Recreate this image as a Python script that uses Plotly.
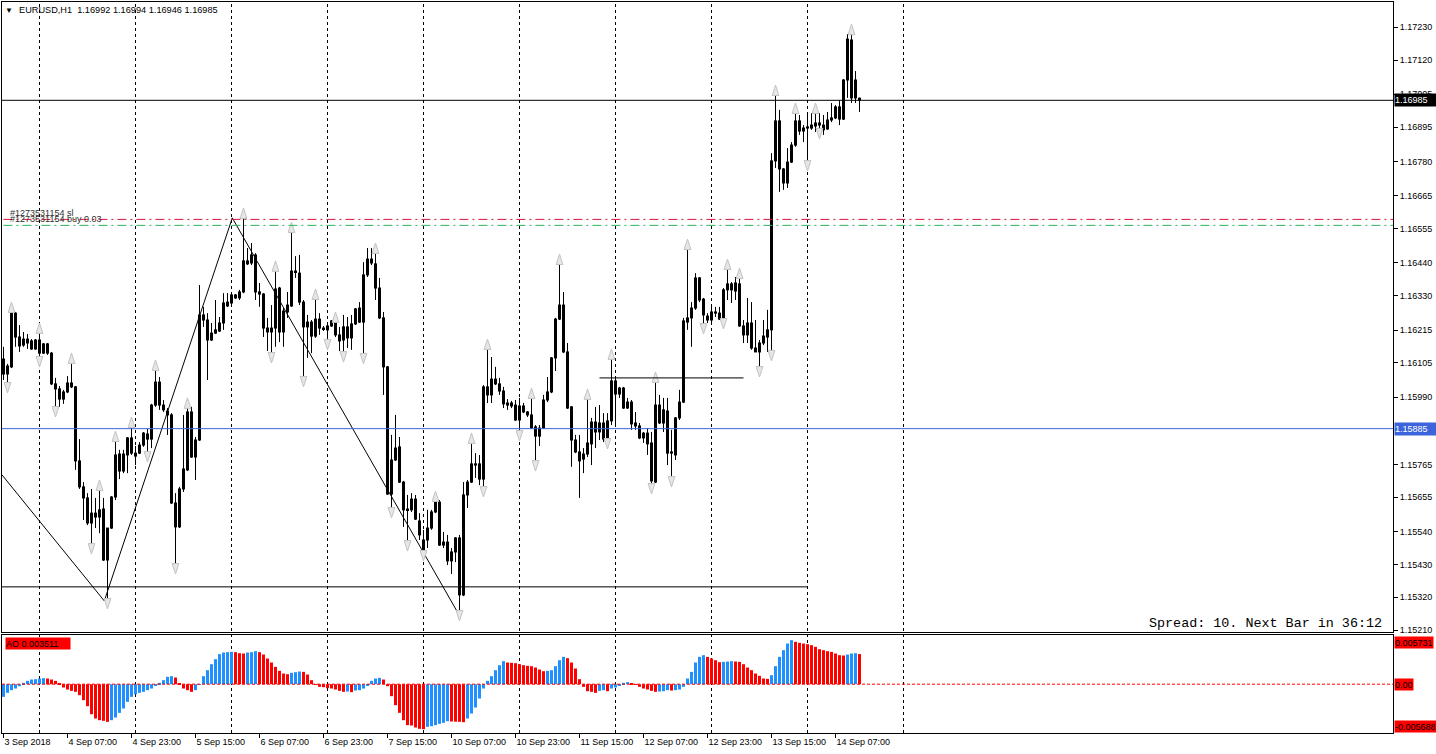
import plotly.graph_objects as go

# ---------------- data ----------------
open_ = [1.16118,1.16068,1.16092,1.16272,1.16192,1.16165,1.16185,1.16179,1.16152,1.16182,
         1.16138,1.16169,1.16138,1.16035,1.16018,1.15984,1.16008,1.16038,1.16025,1.15777,
         1.15690,1.15653,1.15569,1.15602,1.15589,1.15616,1.15445,1.15552,1.15656,1.15800,
         1.15743,1.15797,1.15854,1.15803,1.15803,1.15830,1.15867,1.15850,1.15964,1.16041,
         1.15964,1.15944,1.15931,1.15636,1.15556,1.15683,1.15747,1.15941,1.15790,1.15847,
         1.16266,1.16249,1.16182,1.16205,1.16212,1.16239,1.16309,1.16306,1.16323,1.16323,
         1.16343,1.16447,1.16440,1.16467,1.16343,1.16336,1.16222,1.16209,1.16222,1.16356,
         1.16209,1.16276,1.16296,1.16413,1.16406,1.16309,1.16226,1.16242,1.16195,1.16252,
         1.16222,1.16216,1.16229,1.16242,1.16199,1.16182,1.16226,1.16189,1.16236,1.16289,
         1.16242,1.16400,1.16453,1.16437,1.16356,1.16256,1.16092,1.15666,1.15780,1.15824,
         1.15706,1.15616,1.15613,1.15649,1.15576,1.15475,1.15512,1.15552,1.15606,1.15639,
         1.15495,1.15505,1.15442,1.15472,1.15519,1.15328,1.15663,1.15706,1.15763,1.15767,
         1.15716,1.16025,1.15998,1.16051,1.16035,1.16011,1.15971,1.15971,1.15964,1.15914,
         1.15961,1.15941,1.15931,1.15891,1.15860,1.15887,1.15981,1.16008,1.16122,1.16252,
         1.16299,1.16142,1.15958,1.15847,1.15807,1.15783,1.15800,1.15834,1.15907,1.15874,
         1.15904,1.15850,1.15911,1.16045,1.16001,1.16021,1.15954,1.15974,1.15904,1.15894,
         1.15854,1.15870,1.15837,1.15706,1.15964,1.15904,1.15944,1.15807,1.15797,1.15921,
         1.15974,1.16242,1.16256,1.16289,1.16390,1.16319,1.16262,1.16249,1.16272,1.16272,
         1.16252,1.16350,1.16370,1.16346,1.16370,1.16229,1.16199,1.16239,1.16155,1.16142,
         1.16172,1.16192,1.16216,1.16782,1.16916,1.16755,1.16708,1.16778,1.16835,1.16916,
         1.16882,1.16892,1.16892,1.16899,1.16902,1.16902,1.16889,1.16919,1.16926,1.16963,
         1.16922,1.17053,1.17187,1.17053,1.16992]
high = [1.16159,1.16102,1.16279,1.16276,1.16232,1.16209,1.16202,1.16185,1.16185,1.16209,
        1.16172,1.16172,1.16142,1.16055,1.16028,1.16015,1.16061,1.16108,1.16028,1.15850,
        1.15706,1.15669,1.15683,1.15653,1.15683,1.15653,1.15552,1.15659,1.15847,1.15814,
        1.15814,1.15857,1.15894,1.15827,1.15840,1.15874,1.15884,1.15968,1.16085,1.16058,
        1.15981,1.15954,1.15937,1.15669,1.15690,1.15931,1.15958,1.15958,1.15857,1.16366,
        1.16293,1.16272,1.16239,1.16316,1.16259,1.16339,1.16339,1.16339,1.16336,1.16350,
        1.16594,1.16490,1.16507,1.16473,1.16373,1.16339,1.16256,1.16299,1.16417,1.16360,
        1.16289,1.16343,1.16547,1.16463,1.16467,1.16316,1.16266,1.16249,1.16323,1.16272,
        1.16229,1.16242,1.16249,1.16246,1.16226,1.16266,1.16259,1.16266,1.16289,1.16309,
        1.16443,1.16490,1.16490,1.16477,1.16390,1.16276,1.16095,1.15864,1.15931,1.15857,
        1.15710,1.15663,1.15669,1.15663,1.15602,1.15546,1.15613,1.15613,1.15646,1.15646,
        1.15539,1.15529,1.15485,1.15522,1.15529,1.15706,1.15713,1.15840,1.15803,1.15797,
        1.16031,1.16155,1.16125,1.16092,1.16055,1.16025,1.15984,1.15978,1.15981,1.15988,
        1.15971,1.15944,1.15991,1.15897,1.15897,1.15998,1.16058,1.16125,1.16256,1.16440,
        1.16343,1.16172,1.15961,1.15864,1.15864,1.15820,1.15988,1.15921,1.15958,1.15964,
        1.15937,1.15937,1.16122,1.16058,1.16025,1.16025,1.15988,1.15981,1.15941,1.15904,
        1.15874,1.15887,1.15874,1.16045,1.15998,1.15988,1.15988,1.15881,1.15924,1.16015,
        1.16256,1.16490,1.16309,1.16406,1.16393,1.16323,1.16272,1.16299,1.16293,1.16293,
        1.16356,1.16423,1.16376,1.16393,1.16393,1.16249,1.16323,1.16309,1.16249,1.16182,
        1.16249,1.16283,1.16808,1.17006,1.16953,1.16758,1.16825,1.16845,1.16946,1.16936,
        1.16902,1.16936,1.16942,1.16946,1.16942,1.16936,1.16946,1.16976,1.16969,1.16986,
        1.17056,1.17207,1.17210,1.17083,1.16994]
low = [1.16048,1.16035,1.16088,1.16159,1.16142,1.16159,1.16152,1.16149,1.16149,1.16122,
       1.16135,1.16132,1.16031,1.15954,1.15958,1.15968,1.16004,1.16021,1.15747,1.15683,
       1.15579,1.15562,1.15495,1.15552,1.15535,1.15442,1.15311,1.15549,1.15646,1.15716,
       1.15736,1.15736,1.15797,1.15763,1.15800,1.15824,1.15803,1.15820,1.15958,1.15948,
       1.15941,1.15864,1.15633,1.15428,1.15552,1.15673,1.15743,1.15787,1.15713,1.15844,
       1.16226,1.16048,1.16179,1.16202,1.16209,1.16216,1.16293,1.16299,1.16319,1.16316,
       1.16339,1.16433,1.16433,1.16316,1.16293,1.16192,1.16145,1.16135,1.16159,1.16175,
       1.16159,1.16256,1.16293,1.16390,1.16299,1.16055,1.16122,1.16138,1.16189,1.16199,
       1.16212,1.16179,1.16226,1.16192,1.16145,1.16138,1.16155,1.16149,1.16232,1.16239,
       1.16132,1.16393,1.16433,1.16316,1.16252,1.15998,1.15663,1.15616,1.15777,1.15703,
       1.15556,1.15505,1.15606,1.15579,1.15512,1.15472,1.15485,1.15546,1.15602,1.15492,
       1.15485,1.15428,1.15398,1.15438,1.15271,1.15324,1.15619,1.15703,1.15720,1.15696,
       1.15686,1.15971,1.15971,1.16031,1.15998,1.15954,1.15948,1.15954,1.15911,1.15874,
       1.15937,1.15924,1.15884,1.15773,1.15827,1.15884,1.15974,1.16004,1.16078,1.16249,
       1.16138,1.15951,1.15757,1.15803,1.15653,1.15736,1.15790,1.15763,1.15820,1.15847,
       1.15840,1.15847,1.15897,1.15897,1.15988,1.15951,1.15951,1.15881,1.15881,1.15850,
       1.15837,1.15797,1.15696,1.15703,1.15901,1.15874,1.15763,1.15720,1.15780,1.15914,
       1.15971,1.16216,1.16159,1.16283,1.16309,1.16232,1.16239,1.16239,1.16259,1.16249,
       1.16249,1.16316,1.16306,1.16316,1.16226,1.16172,1.16172,1.16149,1.16142,1.16088,
       1.16165,1.16142,1.16142,1.16758,1.16678,1.16685,1.16691,1.16775,1.16829,1.16869,
       1.16845,1.16778,1.16886,1.16879,1.16886,1.16869,1.16886,1.16912,1.16922,1.16902,
       1.16919,1.16993,1.16976,1.16976,1.16946]
close = [1.16068,1.16095,1.16272,1.16192,1.16162,1.16185,1.16172,1.16152,1.16182,1.16138,
         1.16169,1.16138,1.16035,1.16018,1.15984,1.16008,1.16038,1.16025,1.15777,1.15690,
         1.15653,1.15569,1.15602,1.15589,1.15613,1.15445,1.15552,1.15656,1.15797,1.15743,
         1.15800,1.15854,1.15803,1.15793,1.15830,1.15870,1.15850,1.15964,1.16041,1.15964,
         1.15948,1.15931,1.15636,1.15556,1.15683,1.15750,1.15941,1.15790,1.15847,1.16266,
         1.16249,1.16182,1.16205,1.16216,1.16239,1.16306,1.16296,1.16333,1.16333,1.16343,
         1.16447,1.16437,1.16467,1.16343,1.16336,1.16222,1.16209,1.16222,1.16353,1.16209,
         1.16279,1.16299,1.16413,1.16410,1.16309,1.16226,1.16242,1.16195,1.16252,1.16222,
         1.16219,1.16229,1.16246,1.16199,1.16179,1.16226,1.16189,1.16236,1.16286,1.16242,
         1.16400,1.16453,1.16440,1.16356,1.16256,1.16092,1.15666,1.15780,1.15820,1.15706,
         1.15613,1.15613,1.15649,1.15582,1.15529,1.15512,1.15552,1.15606,1.15643,1.15495,
         1.15505,1.15442,1.15472,1.15519,1.15328,1.15663,1.15706,1.15767,1.15767,1.15716,
         1.16025,1.15998,1.16051,1.16035,1.16011,1.15968,1.15964,1.15961,1.15914,1.15961,
         1.15941,1.15931,1.15887,1.15860,1.15887,1.15981,1.16008,1.16122,1.16252,1.16299,
         1.16142,1.15954,1.15847,1.15807,1.15777,1.15800,1.15837,1.15907,1.15874,1.15904,
         1.15850,1.15911,1.16045,1.16001,1.16021,1.15954,1.15974,1.15901,1.15894,1.15854,
         1.15870,1.15834,1.15710,1.15964,1.15904,1.15948,1.15803,1.15803,1.15921,1.15974,
         1.16246,1.16256,1.16289,1.16390,1.16316,1.16266,1.16249,1.16276,1.16276,1.16252,
         1.16350,1.16370,1.16350,1.16373,1.16229,1.16199,1.16239,1.16155,1.16142,1.16172,
         1.16195,1.16216,1.16782,1.16916,1.16755,1.16708,1.16778,1.16835,1.16916,1.16882,
         1.16892,1.16896,1.16902,1.16909,1.16909,1.16886,1.16919,1.16926,1.16963,1.16922,
         1.17053,1.17190,1.16993,1.16993,1.16985]

# Awesome Oscillator values
ao = [-0.001476,-0.001010,-0.000699,-0.000505,-0.000233,0.000155,0.000388,0.000544,0.000583,0.000660,
      0.000699,0.000660,0.000544,0.000388,0.000078,-0.000388,-0.000621,-0.000777,-0.000893,-0.001282,
      -0.001864,-0.002563,-0.003496,-0.004001,-0.004195,-0.004272,-0.004389,-0.004195,-0.003884,-0.003340,
      -0.002835,-0.002059,-0.001476,-0.001165,-0.001010,-0.000893,-0.000699,-0.000505,-0.000117,0.000155,
      0.000466,0.000854,0.000932,0.000777,0.000078,-0.000505,-0.000699,-0.000893,-0.000699,0.000012,
      0.000932,0.001631,0.002330,0.002913,0.003496,0.003690,0.003729,0.003767,0.003729,0.003612,
      0.003573,0.003690,0.003729,0.003845,0.003729,0.003457,0.002991,0.002525,0.002020,0.001554,
      0.001243,0.001165,0.001321,0.001398,0.001476,0.001437,0.001126,0.000466,-0.000008,-0.000311,
      -0.000350,-0.000466,-0.000505,-0.000621,-0.000777,-0.000893,-0.000854,-0.000932,-0.000738,-0.000699,
      -0.000505,-0.000117,0.000388,0.000660,0.000738,0.000544,-0.000233,-0.001398,-0.002447,-0.003340,
      -0.004195,-0.004777,-0.004816,-0.005049,-0.005205,-0.005243,-0.004972,-0.004894,-0.004777,-0.004622,
      -0.004505,-0.004311,-0.004350,-0.004370,-0.004389,-0.004428,-0.004001,-0.003418,-0.002719,-0.001670,
      -0.000505,0.000388,0.000932,0.001631,0.002214,0.002680,0.002525,0.002486,0.002447,0.002330,
      0.002214,0.002136,0.002097,0.001942,0.001709,0.001515,0.001554,0.001631,0.002097,0.002796,
      0.003185,0.003030,0.002525,0.001825,0.000583,-0.000311,-0.000816,-0.000893,-0.001010,-0.000777,
      -0.000699,-0.000816,-0.000505,-0.000388,-0.000117,0.000155,0.000233,0.000078,-0.000039,-0.000311,
      -0.000505,-0.000621,-0.000777,-0.000893,-0.000854,-0.000816,-0.000699,-0.000738,-0.000699,-0.000621,
      -0.000311,0.000660,0.001437,0.002525,0.003185,0.003379,0.003185,0.002991,0.002796,0.002563,
      0.002602,0.002641,0.002680,0.002641,0.002602,0.002330,0.001942,0.001631,0.001243,0.000971,
      0.000660,0.000621,0.001049,0.002097,0.003185,0.003962,0.004738,0.005127,0.004933,0.004816,
      0.004738,0.004661,0.004544,0.004350,0.004078,0.003962,0.003845,0.003767,0.003573,0.003379,
      0.003340,0.003457,0.003573,0.003612,0.003511]

bars = list(range(len(close)))

time_tick_bars = [0, 16, 32, 48, 64, 80, 96, 112, 128, 144, 160, 176, 192, 208]
time_tick_labels = ["3 Sep 2018", "4 Sep 07:00", "4 Sep 23:00", "5 Sep 15:00", "6 Sep 07:00",
                    "6 Sep 23:00", "7 Sep 15:00", "10 Sep 07:00", "10 Sep 23:00", "11 Sep 15:00",
                    "12 Sep 07:00", "12 Sep 23:00", "13 Sep 15:00", "14 Sep 07:00"]
day_separator_bars = [9, 33, 57, 81, 105, 129, 153, 177, 201, 225]
price_ticks = [1.17230, 1.17120, 1.17005, 1.16895, 1.16780, 1.16665, 1.16555, 1.16440, 1.16330,
               1.16215, 1.16105, 1.15990, 1.15765, 1.15655, 1.15540, 1.15430, 1.15320, 1.15210]

# zigzag vertices (bar position, price)
zigzag_bars = [-0.375, 25.2, 57.2, 113.9]
zigzag_prices = [1.15730, 1.15308, 1.16591, 1.15261]

# fractals
up_fractal_bars = [2, 9, 17, 24, 28, 32, 38, 46, 60, 68, 72, 78, 83, 93, 108, 117, 121, 132, 139,
                   146, 152, 163, 171, 181, 184, 193, 198, 203, 212]
down_fractal_bars = [1, 9, 13, 22, 26, 36, 43, 67, 75, 81, 85, 90, 97, 101, 105, 114, 120, 129, 133,
                     151, 162, 167, 175, 180, 189, 192, 201, 204]

# horizontal levels
bid_price = 1.16985
blue_level = 1.15885
support_level = 1.15355
support_end_bar = 201
range_level = 1.16055
range_start_bar, range_end_bar = 149, 185
sl_level = 1.16586
buy_level = 1.16566
ao_last = 0.003511
ao_max, ao_min = 0.005731, -0.005688

x_range = [-0.375, 347.375]
price_range = [1.152038, 1.173143]

FONT = "Liberation Sans"
BULL = "#4169E1"
BEAR = "#EB6F50"

fig = go.Figure()

# wicks
wick_x, wick_y = [], []
for i in bars:
    wick_x += [i, i, None]
    wick_y += [low[i], high[i], None]
fig.add_trace(go.Scatter(x=wick_x, y=wick_y, mode="lines", line=dict(color="black", width=1),
                         xaxis="x", yaxis="y", showlegend=False, hoverinfo="skip"))

# bodies: black outer body (3 px) with a 1 px coloured core, as drawn by the terminal
px_price = (price_range[1] - price_range[0]) / 630.0
body_lo = [min(o, c) for o, c in zip(open_, close)]
body_hi = [max(o, c) for o, c in zip(open_, close)]
outer_base = [lo - px_price * 0.5 for lo in body_lo]
outer_len = [hi - lo + px_price for lo, hi in zip(body_lo, body_hi)]
fig.add_trace(go.Bar(x=bars, y=outer_len, base=outer_base, width=0.75,
                     marker=dict(color="black", line=dict(width=0)),
                     xaxis="x", yaxis="y", showlegend=False, hoverinfo="skip"))
inner_base = [lo + px_price * 0.5 for lo in body_lo]
inner_len = [max(hi - lo - px_price, 0) for lo, hi in zip(body_lo, body_hi)]
body_col = [BULL if c >= o else BEAR for o, c in zip(open_, close)]
fig.add_trace(go.Bar(x=bars, y=inner_len, base=inner_base, width=0.25,
                     marker=dict(color=body_col, line=dict(width=0)),
                     xaxis="x", yaxis="y", showlegend=False, hoverinfo="skip"))

fig.add_trace(go.Scatter(x=zigzag_bars, y=zigzag_prices, mode="lines",
                         line=dict(color="black", width=1), xaxis="x", yaxis="y",
                         showlegend=False, hoverinfo="skip"))

frac_off = 0.00030
fig.add_trace(go.Scatter(x=up_fractal_bars, y=[high[i] + frac_off for i in up_fractal_bars],
                         mode="markers", marker=dict(symbol="arrow", angle=0, size=11, color="#E6E6E6",
                                                     line=dict(color="#C2C2C2", width=1)),
                         xaxis="x", yaxis="y", showlegend=False, hoverinfo="skip"))
fig.add_trace(go.Scatter(x=down_fractal_bars, y=[low[i] - frac_off for i in down_fractal_bars],
                         mode="markers", marker=dict(symbol="arrow", angle=180, size=11, color="#E6E6E6",
                                                     line=dict(color="#C2C2C2", width=1)),
                         xaxis="x", yaxis="y", showlegend=False, hoverinfo="skip"))

ao_colors = ["#1E90FF" if (i == 0 or ao[i] > ao[i - 1]) else "#FF0000" for i in range(len(ao))]
fig.add_trace(go.Bar(x=bars, y=ao, marker=dict(color=ao_colors, line=dict(width=0)),
                     width=0.75, xaxis="x2", yaxis="y2", showlegend=False, hoverinfo="skip"))

shapes = []
for b in day_separator_bars:
    shapes.append(dict(type="line", xref="x", yref="paper", x0=b, x1=b, y0=0, y1=1,
                       line=dict(color="black", width=1, dash="3px,3px"), layer="below"))
shapes += [
    dict(type="line", xref="paper", yref="y", x0=0, x1=1, y0=bid_price, y1=bid_price,
         line=dict(color="black", width=1)),
    dict(type="line", xref="paper", yref="y", x0=0, x1=1, y0=blue_level, y1=blue_level,
         line=dict(color="#3C64DC", width=1)),
    dict(type="line", xref="x", yref="y", x0=x_range[0], x1=support_end_bar, y0=support_level,
         y1=support_level, line=dict(color="black", width=1)),
    dict(type="line", xref="x", yref="y", x0=range_start_bar, x1=range_end_bar, y0=range_level,
         y1=range_level, line=dict(color="black", width=1)),
    dict(type="line", xref="paper", yref="y", x0=0.001, x1=1, y0=sl_level, y1=sl_level,
         line=dict(color="#DC143C", width=1, dash="9px,4px,2px,4px")),
    dict(type="line", xref="paper", yref="y", x0=0.001, x1=1, y0=buy_level, y1=buy_level,
         line=dict(color="#2EB25E", width=1, dash="9px,4px,2px,4px")),
    dict(type="line", xref="paper", yref="y2", x0=0, x1=1, y0=0, y1=0,
         line=dict(color="#FF0000", width=1, dash="3px,2px")),
]

ann = [
    dict(text="▼", xref="paper", yref="paper", x=(9 - 2) / 1391, y=(733 - 10) / 731,
         xanchor="center", yanchor="middle", showarrow=False, font=dict(size=8, color="black", family=FONT)),
    dict(text="EURUSD,H1  1.16992 1.16994 1.16946 1.16985", xref="paper", yref="paper",
         x=(17 - 2) / 1391, y=(733 - 10) / 731, xanchor="left", yanchor="middle", showarrow=False,
         font=dict(size=9.2, color="black", family=FONT)),
    dict(text="#1273531154 sl", xref="paper", yref="y", x=(8 - 2) / 1391, y=sl_level,
         xanchor="left", yanchor="bottom", yshift=-1, showarrow=False,
         font=dict(size=9, color="#303030", family=FONT)),
    dict(text="#1273531154 buy 0.03", xref="paper", yref="y", x=(8 - 2) / 1391, y=buy_level,
         xanchor="left", yanchor="bottom", yshift=-1, showarrow=False,
         font=dict(size=9, color="#303030", family=FONT)),
    dict(text="Spread: 10. Next Bar in 36:12", xref="paper", yref="paper", x=(1384 - 2) / 1391,
         y=(733 - 623) / 731, xanchor="right", yanchor="middle", showarrow=False,
         font=dict(size=13.4, color="black", family="Liberation Mono")),
    dict(text="%.5f" % bid_price, xref="paper", yref="y", x=1, y=bid_price, xanchor="left",
         yanchor="middle", xshift=1, showarrow=False, bgcolor="black", width=42, height=12,
         align="left", borderpad=0, font=dict(size=9, color="white", family=FONT)),
    dict(text="%.5f" % blue_level, xref="paper", yref="y", x=1, y=blue_level, xanchor="left",
         yanchor="middle", xshift=1, showarrow=False, bgcolor="#3C64DC", width=42, height=12,
         align="left", borderpad=0, font=dict(size=9, color="white", family=FONT)),
    dict(text="AO %.6f" % ao_last, xref="paper", yref="paper", x=(5 - 2) / 1391, y=(733 - 637) / 731,
         xanchor="left", yanchor="top", showarrow=False, bgcolor="#FF0000", width=64, height=11,
         align="left", borderpad=0, font=dict(size=9, color="black", family=FONT)),
    dict(text="%.6f" % ao_max, xref="paper", yref="y2", x=1, y=ao_max, xanchor="left", yanchor="top",
         xshift=1, yshift=-1, showarrow=False, bgcolor="#FF0000", height=11, borderpad=0,
         font=dict(size=9, color="black", family=FONT)),
    dict(text="0.00", xref="paper", yref="y2", x=1, y=0, xanchor="left", yanchor="middle",
         xshift=1, showarrow=False, bgcolor="#FF0000", height=11, borderpad=0,
         font=dict(size=9, color="black", family=FONT)),
    dict(text="%.6f" % ao_min, xref="paper", yref="y2", x=1, y=ao_min, xanchor="left",
         yanchor="bottom", xshift=1, showarrow=False, bgcolor="#FF0000", height=11, borderpad=0,
         font=dict(size=9, color="black", family=FONT)),
]

fig.update_layout(
    width=1436, height=754, autosize=False,
    margin=dict(l=2, r=43, t=2, b=21, pad=0),
    paper_bgcolor="white", plot_bgcolor="white",
    showlegend=False, barmode="overlay",
    shapes=shapes, annotations=ann,
    font=dict(family=FONT, size=9, color="black"),
    xaxis=dict(anchor="y", range=x_range, showticklabels=False, ticks="", showgrid=False,
               zeroline=False, showline=True, linecolor="black", linewidth=1, mirror=True,
               fixedrange=True),
    yaxis=dict(domain=[(733 - 632) / 731, 1], range=price_range, side="right", tickvals=price_ticks,
               tickformat=".5f", ticks="outside", ticklen=4, tickcolor="black", showgrid=False,
               zeroline=False, showline=True, linecolor="black", linewidth=1, mirror=True,
               tickfont=dict(size=9, family=FONT, color="black")),
    xaxis2=dict(anchor="y2", matches="x", range=x_range, tickvals=time_tick_bars,
                ticktext=time_tick_labels, ticks="outside", ticklen=4, tickcolor="black",
                ticklabelposition="outside right", showgrid=False, zeroline=False, showline=True,
                linecolor="black", linewidth=1, mirror=True,
                tickfont=dict(size=9, family=FONT, color="black")),
    yaxis2=dict(domain=[0, (733 - 635) / 731], range=[ao_min, ao_max], side="right",
                showticklabels=False, ticks="", showgrid=False, zeroline=False, showline=True,
                linecolor="black", linewidth=1, mirror=True),
)

fig.write_html("out.html")
